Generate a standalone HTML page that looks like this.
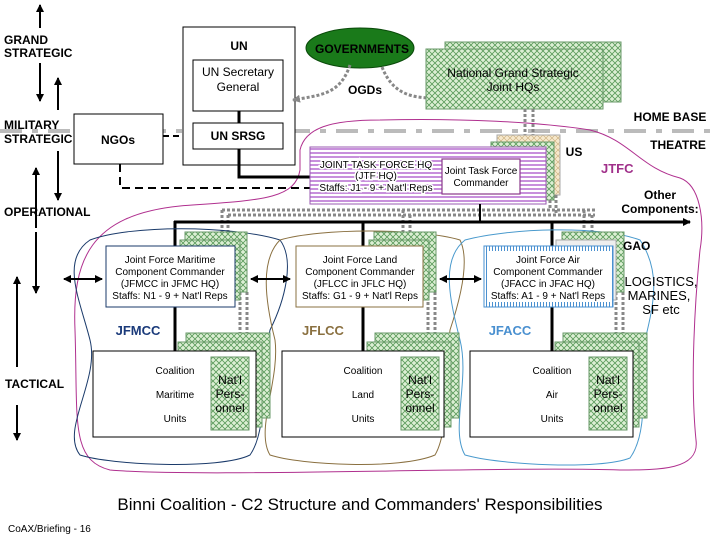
<!DOCTYPE html>
<html><head><meta charset="utf-8"><style>
html,body{margin:0;padding:0;background:#fff;}
svg{display:block;font-family:"Liberation Sans",Arial,sans-serif;}
</style></head><body>
<svg width="720" height="540" viewBox="0 0 720 540" xmlns="http://www.w3.org/2000/svg">
<defs>
<pattern id="h" width="6" height="6" patternUnits="userSpaceOnUse">
<rect width="6" height="6" fill="#dcefd4"/>
<path d="M0,6 L6,0 M0,0 L6,6" stroke="#5a9a5a" stroke-width="0.8"/>
</pattern>
<pattern id="hp" width="6" height="6" patternUnits="userSpaceOnUse">
<rect width="6" height="6" fill="#f6e8cc"/>
<path d="M0,6 L6,0 M0,0 L6,6" stroke="#c9ab78" stroke-width="0.6"/>
</pattern>
<pattern id="st" width="4" height="4" patternUnits="userSpaceOnUse">
<rect width="4" height="4" fill="#fff"/><rect width="4" height="2" fill="#c890dc"/>
</pattern>
<pattern id="tk" width="3" height="6" patternUnits="userSpaceOnUse">
<rect width="3" height="6" fill="#fff"/><rect width="1" height="6" fill="#4a90d0"/>
</pattern>
<marker id="a" markerWidth="8" markerHeight="8" refX="7" refY="4" orient="auto" markerUnits="userSpaceOnUse"><path d="M0,0 L8,4 L0,8z" fill="#000"/></marker>
<marker id="ag" markerWidth="8" markerHeight="8" refX="7" refY="4" orient="auto" markerUnits="userSpaceOnUse"><path d="M0,0 L8,4 L0,8z" fill="#888"/></marker>
</defs>

<!-- left level arrows -->
<g stroke="#000" stroke-width="2" marker-end="url(#a)">
<line x1="40" y1="28" x2="40" y2="5"/>
<line x1="40" y1="63" x2="40" y2="101"/>
<line x1="58" y1="110" x2="58" y2="78"/>
<line x1="58" y1="151" x2="58" y2="200"/>
<line x1="36" y1="228" x2="36" y2="168"/>
<line x1="36" y1="232" x2="36" y2="293"/>
<line x1="17" y1="367" x2="17" y2="277"/>
<line x1="17" y1="405" x2="17" y2="440"/>
</g>
<g font-weight="bold" font-size="12">
<text x="4" y="44">GRAND</text><text x="4" y="57">STRATEGIC</text>
<text x="4" y="129">MILITARY</text><text x="4" y="143">STRATEGIC</text>
<text x="4" y="216">OPERATIONAL</text>
<text x="5" y="388">TACTICAL</text>
</g>

<!-- home base line -->
<line x1="0" y1="131" x2="720" y2="131" stroke="#bbb" stroke-width="4" stroke-dasharray="22,10,6,10"/>

<!-- magenta JTFC boundary -->
<path d="M300,150 C305,128 330,120 380,120 C460,118 540,122 590,130 C630,140 640,168 680,178 C700,185 705,220 700,250 C695,300 690,380 696,440 C700,470 660,470 620,470 C500,466 200,478 110,470 C70,460 78,420 75,330 C72,260 90,215 180,206 C260,200 295,200 300,170 Z" fill="none" stroke="#b0308f" stroke-width="1"/>

<!-- UN -->
<rect x="183" y="27" width="112" height="138" fill="#fff" stroke="#000" stroke-width="1"/>
<text x="239" y="50" font-size="12" font-weight="bold" text-anchor="middle">UN</text>
<rect x="193" y="60" width="90" height="51" fill="#fff" stroke="#000"/>
<text x="238" y="76" font-size="12" text-anchor="middle">UN Secretary</text>
<text x="238" y="91" font-size="12" text-anchor="middle">General</text>
<line x1="239" y1="111" x2="239" y2="123" stroke="#000" stroke-width="3"/>
<rect x="193" y="123" width="90" height="26" fill="#fff" stroke="#000"/>
<text x="238" y="140" font-size="12" font-weight="bold" text-anchor="middle">UN SRSG</text>
<polyline points="239,149 239,177 310,177" fill="none" stroke="#000" stroke-width="3"/>

<rect x="74" y="114" width="89" height="50" fill="#fff" stroke="#000"/>
<text x="118" y="144" font-size="12" font-weight="bold" text-anchor="middle">NGOs</text>
<line x1="163" y1="136" x2="183" y2="136" stroke="#000" stroke-width="2" stroke-dasharray="6,4"/>
<polyline points="120,164 120,188 310,188" fill="none" stroke="#000" stroke-width="2" stroke-dasharray="8,5"/>

<!-- governments -->
<ellipse cx="360" cy="48" rx="54" ry="20" fill="#1a7a1a" stroke="#0a4a0a"/>
<text x="362" y="53" font-size="12" font-weight="bold" text-anchor="middle">GOVERNMENTS</text>
<text x="348" y="94" font-size="12" font-weight="bold">OGDs</text>
<path d="M350,65 C340,95 320,95 293,100" fill="none" stroke="#888" stroke-width="3" stroke-dasharray="3,2" marker-end="url(#ag)"/>
<path d="M382,67 C395,100 420,98 446,98" fill="none" stroke="#888" stroke-width="3" stroke-dasharray="3,2" marker-end="url(#ag)"/>

<rect x="445" y="42" width="176" height="60" fill="url(#h)" stroke="#6a9a6a"/>
<rect x="426" y="49" width="177" height="60" fill="url(#h)" stroke="#6a9a6a"/>
<text x="513" y="77" font-size="12" text-anchor="middle">National Grand Strategic</text>
<text x="513" y="91" font-size="12" text-anchor="middle">Joint HQs</text>
<line x1="525" y1="109" x2="525" y2="145" stroke="#888" stroke-width="3" stroke-dasharray="3,2"/>
<line x1="533" y1="109" x2="533" y2="140" stroke="#888" stroke-width="3" stroke-dasharray="3,2"/>

<text x="670" y="121" font-size="12" font-weight="bold" text-anchor="middle">HOME BASE</text>
<text x="678" y="149" font-size="12" font-weight="bold" text-anchor="middle">THEATRE</text>
<text x="574" y="156" font-size="12" font-weight="bold" text-anchor="middle">US</text>
<text x="601" y="173" font-size="13" font-weight="bold" fill="#a0308a">JTFC</text>
<text x="660" y="199" font-size="12" font-weight="bold" text-anchor="middle">Other</text>
<text x="660" y="213" font-size="12" font-weight="bold" text-anchor="middle">Components:</text>

<!-- JTF HQ -->
<rect x="497" y="135" width="63" height="60" fill="url(#hp)" stroke="#aaa"/>
<rect x="491" y="142" width="63" height="58" fill="url(#h)" stroke="#6a9a6a"/>
<rect x="310" y="147" width="236" height="57" fill="url(#st)" stroke="#9a5ab0"/>
<rect x="314" y="157" width="124" height="38" fill="#fff" opacity="0.0"/>
<g font-size="10" text-anchor="middle">
<text x="376" y="168" style="paint-order:stroke" stroke="#fff" stroke-width="3">JOINT TASK FORCE HQ</text>
<text x="376" y="179" style="paint-order:stroke" stroke="#fff" stroke-width="3">(JTF HQ)</text>
<text x="376" y="191" style="paint-order:stroke" stroke="#fff" stroke-width="3">Staffs: J1 - 9 + Nat'l Reps</text>
</g>
<rect x="442" y="159" width="78" height="35" fill="#fff" stroke="#8a3a8a" stroke-width="1.2"/>
<text x="481" y="174" font-size="10" text-anchor="middle">Joint Task Force</text>
<text x="481" y="186" font-size="10" text-anchor="middle">Commander</text>

<!-- grey dotted distribution -->
<g stroke="#888" stroke-width="3" stroke-dasharray="3,2" fill="none">
<line x1="222" y1="210" x2="595" y2="210"/>
<line x1="228" y1="215" x2="595" y2="215"/>
<line x1="550" y1="200" x2="550" y2="210"/>
<line x1="556" y1="195" x2="556" y2="215"/>
<line x1="222" y1="210" x2="222" y2="234"/><line x1="228" y1="215" x2="228" y2="234"/>
<line x1="403" y1="210" x2="403" y2="234"/><line x1="410" y1="215" x2="410" y2="234"/>
<line x1="584" y1="210" x2="584" y2="234"/><line x1="592" y1="215" x2="592" y2="234"/>
<line x1="240" y1="292" x2="240" y2="350"/><line x1="247" y1="292" x2="247" y2="335"/>
<line x1="428" y1="292" x2="428" y2="350"/><line x1="435" y1="292" x2="435" y2="335"/>
<line x1="616" y1="292" x2="616" y2="350"/><line x1="623" y1="292" x2="623" y2="335"/>
</g>

<!-- thick bus -->
<line x1="480" y1="204" x2="480" y2="222" stroke="#000" stroke-width="2"/>
<line x1="174" y1="222" x2="690" y2="222" stroke="#000" stroke-width="3" marker-end="url(#a)"/>
<line x1="175" y1="221" x2="175" y2="351" stroke="#000" stroke-width="3"/>
<line x1="363" y1="221" x2="363" y2="351" stroke="#000" stroke-width="3"/>
<line x1="552" y1="221" x2="552" y2="351" stroke="#000" stroke-width="3"/>

<!-- component loops -->
<path d="M90,240 C130,225 230,225 280,240 C295,260 285,300 270,330 C262,370 268,430 250,455 C220,470 110,465 80,455 C60,430 100,380 90,340 C80,300 60,260 90,240Z" fill="none" stroke="#1a3a6a" stroke-width="1"/>
<path d="M280,240 C320,228 420,228 460,240 C470,260 460,300 450,330 C445,370 450,430 435,455 C400,470 300,465 270,455 C255,430 280,380 275,340 C265,300 260,260 280,240Z" fill="none" stroke="#8a7040" stroke-width="1"/>
<path d="M465,240 C510,228 600,225 640,240 C660,270 655,300 645,340 C640,380 650,430 630,458 C600,470 500,465 465,455 C450,430 470,380 460,340 C450,300 440,260 465,240Z" fill="none" stroke="#4a9acd" stroke-width="1"/>

<!-- component HQ boxes -->
<rect x="185" y="232" width="62" height="60" fill="url(#h)" stroke="#6a9a6a"/>
<rect x="180" y="240" width="60" height="60" fill="url(#h)" stroke="#6a9a6a"/>
<rect x="374" y="232" width="62" height="60" fill="url(#h)" stroke="#6a9a6a"/>
<rect x="369" y="240" width="60" height="60" fill="url(#h)" stroke="#6a9a6a"/>
<rect x="562" y="232" width="62" height="60" fill="url(#h)" stroke="#6a9a6a"/>
<rect x="556" y="240" width="60" height="60" fill="#eee" stroke="#aaa"/>

<rect x="106" y="246" width="129" height="61" fill="#fff" stroke="#1a3a6a"/>
<rect x="296" y="246" width="127" height="61" fill="#fff" stroke="#8a7040"/>
<rect x="484" y="246" width="129" height="61" fill="url(#tk)" stroke="#4a90d0"/>
<rect x="487" y="251" width="123" height="51" fill="#fff"/>
<g font-size="10" text-anchor="middle">
<text x="170" y="263">Joint Force Maritime</text><text x="170" y="275">Component Commander</text><text x="170" y="287">(JFMCC in JFMC HQ)</text><text x="170" y="299">Staffs: N1 - 9 + Nat'l Reps</text>
<text x="360" y="263">Joint Force Land</text><text x="360" y="275">Component Commander</text><text x="360" y="287">(JFLCC in JFLC HQ)</text><text x="360" y="299">Staffs: G1 - 9 + Nat'l Reps</text>
<text x="548" y="263">Joint Force Air</text><text x="548" y="275">Component Commander</text><text x="548" y="287">(JFACC in JFAC HQ)</text><text x="548" y="299">Staffs: A1 - 9 + Nat'l Reps</text>
</g>
<g stroke="#000" stroke-width="2" marker-end="url(#a)" marker-start="url(#a)">
</g>
<g stroke="#000" stroke-width="2">
<line x1="66" y1="279" x2="102" y2="279" marker-end="url(#a)"/><line x1="100" y1="279" x2="64" y2="279" marker-end="url(#a)"/>
<line x1="253" y1="279" x2="290" y2="279" marker-end="url(#a)"/><line x1="288" y1="279" x2="251" y2="279" marker-end="url(#a)"/>
<line x1="442" y1="279" x2="481" y2="279" marker-end="url(#a)"/><line x1="479" y1="279" x2="440" y2="279" marker-end="url(#a)"/>
</g>
<text x="138" y="335" font-size="13" font-weight="bold" fill="#1a3a7a" text-anchor="middle">JFMCC</text>
<text x="323" y="335" font-size="13" font-weight="bold" fill="#8a7040" text-anchor="middle">JFLCC</text>
<text x="510" y="335" font-size="13" font-weight="bold" fill="#4a90d0" text-anchor="middle">JFACC</text>
<text x="623" y="250" font-size="12" font-weight="bold">GAO</text>
<g font-size="13" text-anchor="middle">
<text x="661" y="286">LOGISTICS,</text><text x="659" y="300">MARINES,</text><text x="661" y="314">SF etc</text>
</g>

<!-- tactical units -->
<g>
<rect x="186" y="333" width="84" height="85" fill="url(#h)" stroke="#6a9a6a"/>
<rect x="178" y="342" width="84" height="85" fill="url(#h)" stroke="#6a9a6a"/>
<rect x="375" y="333" width="84" height="85" fill="url(#h)" stroke="#6a9a6a"/>
<rect x="367" y="342" width="84" height="85" fill="url(#h)" stroke="#6a9a6a"/>
<rect x="563" y="333" width="84" height="85" fill="url(#h)" stroke="#6a9a6a"/>
<rect x="555" y="342" width="84" height="85" fill="url(#h)" stroke="#6a9a6a"/>
</g>
<rect x="93" y="351" width="163" height="86" fill="#fff" stroke="#000"/>
<rect x="282" y="351" width="162" height="86" fill="#fff" stroke="#000"/>
<rect x="470" y="351" width="163" height="86" fill="#fff" stroke="#000"/>
<rect x="211" y="357" width="38" height="73" fill="url(#h)" stroke="#6a9a6a"/>
<rect x="401" y="357" width="38" height="73" fill="url(#h)" stroke="#6a9a6a"/>
<rect x="589" y="357" width="38" height="73" fill="url(#h)" stroke="#6a9a6a"/>
<g font-size="10" text-anchor="middle">
<text x="175" y="374">Coalition</text><text x="175" y="398">Maritime</text><text x="175" y="422">Units</text>
<text x="363" y="374">Coalition</text><text x="363" y="398">Land</text><text x="363" y="422">Units</text>
<text x="552" y="374">Coalition</text><text x="552" y="398">Air</text><text x="552" y="422">Units</text>
</g>
<g font-size="12" text-anchor="middle">
<text x="230" y="384">Nat'l</text><text x="230" y="398">Pers-</text><text x="230" y="412">onnel</text>
<text x="420" y="384">Nat'l</text><text x="420" y="398">Pers-</text><text x="420" y="412">onnel</text>
<text x="608" y="384">Nat'l</text><text x="608" y="398">Pers-</text><text x="608" y="412">onnel</text>
</g>

<text x="360" y="510" font-size="17" text-anchor="middle">Binni Coalition - C2 Structure and Commanders' Responsibilities</text>
<text x="8" y="532" font-size="10">CoAX/Briefing - 16</text>
</svg>
</body></html>
